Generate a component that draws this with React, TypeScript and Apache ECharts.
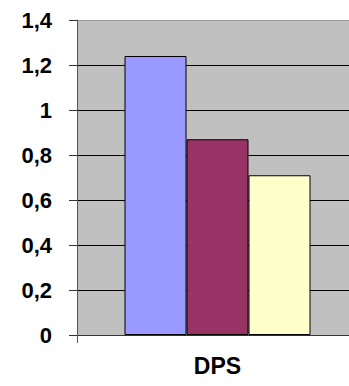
import React, { useEffect, useRef } from "react";
import * as echarts from "echarts";

// Chart data
const categories = ["DPS"];
const seriesNames = ["Serie 1", "Serie 2", "Serie 3"];
const seriesValues = [[1.24], [0.87], [0.71]];
const seriesColors = ["#9999FF", "#993366", "#FFFFCC"];

const FONT = "'Liberation Sans', Arial, sans-serif";

export default function App() {
  const ref = useRef<HTMLDivElement>(null);

  useEffect(() => {
    if (!ref.current) return;
    const chart = echarts.init(ref.current, undefined, { renderer: "svg" });

    // last split line (top edge of the plot) is a lighter grey frame line
    const gridColors = ["#000", "#000", "#000", "#000", "#000", "#000", "#000", "#999999"];

    chart.setOption({
      animation: false,
      backgroundColor: "#ffffff",
      grid: {
        left: 77,
        top: 20,
        width: 281,
        bottom: 51,
        show: true,
        backgroundColor: "#C0C0C0",
        borderWidth: 0,
        outerBoundsMode: "none",
      },
      xAxis: {
        type: "category",
        data: categories,
        axisLine: { show: true, lineStyle: { color: "#333333", width: 1 } },
        axisTick: { show: true, length: 8, alignWithLabel: false, lineStyle: { color: "#555555" } },
        axisLabel: {
          margin: 19,
          fontFamily: FONT,
          fontWeight: "bold",
          fontSize: 23,
          color: "#000",
        },
      },
      yAxis: {
        type: "value",
        min: 0,
        max: 1.4,
        interval: 0.2,
        axisLine: { show: true, lineStyle: { color: "#555555", width: 1 } },
        axisTick: { show: true, length: 8, inside: false, lineStyle: { color: "#333333" } },
        splitLine: { show: true, lineStyle: { color: gridColors, width: 1 } },
        axisLabel: {
          margin: 25,
          fontFamily: FONT,
          fontWeight: "bold",
          fontSize: 22,
          color: "#000",
          formatter: (v: number) => String(Math.round(v * 10) / 10).replace(".", ","),
        },
      },
      series: seriesNames.map((name, i) => ({
        name,
        type: "bar",
        data: seriesValues[i],
        barWidth: 62,
        barGap: "0%",
        itemStyle: {
          color: seriesColors[i],
          borderColor: "#000",
          borderWidth: 1,
        },
      })),
    });

    return () => chart.dispose();
  }, []);

  return (
    <div
      ref={ref}
      style={{ position: "absolute", left: 0, top: 0, width: 349, height: 386, overflow: "hidden" }}
    />
  );
}
